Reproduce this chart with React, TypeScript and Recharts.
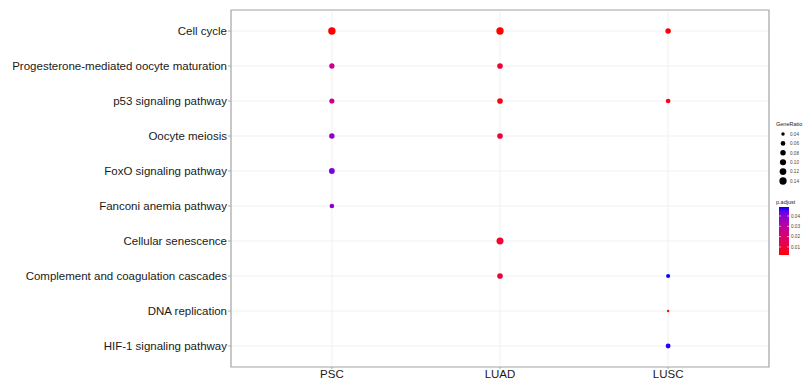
import {CartesianGrid, ReferenceArea, Scatter, ScatterChart, XAxis, YAxis} from "recharts";

// categories
const samples = ["PSC", "LUAD", "LUSC"];
const pathways = [
    "Cell cycle",
    "Progesterone-mediated oocyte maturation",
    "p53 signaling pathway",
    "Oocyte meiosis",
    "FoxO signaling pathway",
    "Fanconi anemia pathway",
    "Cellular senescence",
    "Complement and coagulation cascades",
    "DNA replication",
    "HIF-1 signaling pathway",
];

// one entry per dot: sample, pathway, GeneRatio, p.adjust
const dotSample = ["PSC", "LUAD", "LUSC", "PSC", "LUAD", "PSC", "LUAD", "LUSC", "PSC", "LUAD", "PSC", "PSC", "LUAD", "LUAD", "LUSC", "LUSC", "LUSC"];
const dotPathway = [
    "Cell cycle", "Cell cycle", "Cell cycle",
    "Progesterone-mediated oocyte maturation", "Progesterone-mediated oocyte maturation",
    "p53 signaling pathway", "p53 signaling pathway", "p53 signaling pathway",
    "Oocyte meiosis", "Oocyte meiosis",
    "FoxO signaling pathway",
    "Fanconi anemia pathway",
    "Cellular senescence",
    "Complement and coagulation cascades", "Complement and coagulation cascades",
    "DNA replication",
    "HIF-1 signaling pathway",
];
const geneRatio = [0.145, 0.143, 0.08, 0.075, 0.085, 0.072, 0.085, 0.06, 0.08, 0.085, 0.09, 0.06, 0.13, 0.085, 0.05, 0.03, 0.065];
const pAdjust = [0.0023, 0.0024, 0.003, 0.026, 0.009, 0.026, 0.004, 0.004, 0.039, 0.009, 0.042, 0.040, 0.008, 0.009, 0.0485, 0.004, 0.048];

// legend breaks
const sizeBreaks = [0.04, 0.06, 0.08, 0.10, 0.12, 0.14];
const colorBreaks = [0.04, 0.03, 0.02, 0.01];

const G_MIN = 0.028, G_MAX = 0.146;
const P_MIN = 0.0022, P_MAX = 0.0487;

const radius = (g: number) => {
    const t = Math.max(0, (g - G_MIN) / (G_MAX - G_MIN));
    return 0.8 + 2.9 * Math.sqrt(t);
};

// red -> blue interpolated in Lab, like ggplot
const toLin = (c: number) => (c <= 0.04045 ? c / 12.92 : Math.pow((c + 0.055) / 1.055, 2.4));
const fromLin = (c: number) => (c <= 0.0031308 ? 12.92 * c : 1.055 * Math.pow(c, 1 / 2.4) - 0.055);
const f = (t: number) => (t > 0.008856 ? Math.cbrt(t) : 7.787 * t + 16 / 116);
const fi = (t: number) => (t > 0.206893 ? t * t * t : (t - 16 / 116) / 7.787);
function rgbToLab([r, g, b]: number[]) {
    const R = toLin(r / 255), G = toLin(g / 255), B = toLin(b / 255);
    const X = (0.4124 * R + 0.3576 * G + 0.1805 * B) / 0.95047;
    const Y = 0.2126 * R + 0.7152 * G + 0.0722 * B;
    const Z = (0.0193 * R + 0.1192 * G + 0.9505 * B) / 1.08883;
    return [116 * f(Y) - 16, 500 * (f(X) - f(Y)), 200 * (f(Y) - f(Z))];
}
function labToHex([L, a, bb]: number[]) {
    const fy = (L + 16) / 116, fx = fy + a / 500, fz = fy - bb / 200;
    const X = fi(fx) * 0.95047, Y = fi(fy), Z = fi(fz) * 1.08883;
    const r = 3.2406 * X - 1.5372 * Y - 0.4986 * Z;
    const g = -0.9689 * X + 1.8758 * Y + 0.0415 * Z;
    const b = 0.0557 * X - 0.204 * Y + 1.057 * Z;
    const h = (v: number) => Math.round(Math.min(1, Math.max(0, fromLin(v))) * 255).toString(16).padStart(2, "0");
    return "#" + h(r) + h(g) + h(b);
}
const LAB_LOW = rgbToLab([255, 0, 0]);
const LAB_HIGH = rgbToLab([0, 0, 255]);
const colorAt = (t: number) => labToHex(LAB_LOW.map((v, i) => v + (LAB_HIGH[i] - v) * t));
const colorFor = (p: number) => colorAt(Math.min(1, Math.max(0, (p - P_MIN) / (P_MAX - P_MIN))));

const points = dotSample.map((s, i) => ({
    x: samples.indexOf(s) + 1,
    y: pathways.indexOf(dotPathway[i]) + 1,
    g: geneRatio[i],
    p: pAdjust[i],
}));

const FONT = "'Liberation Sans', Arial, sans-serif";

function Dot(props: any) {
    const {cx, cy, payload} = props;
    if (cx == null || cy == null) return null;
    return <circle cx={cx} cy={cy} r={radius(payload.g)} fill={colorFor(payload.p)} />;
}

function YTick(props: any) {
    const {x, y, payload} = props;
    return (
        <text x={x} y={y} dy={4} textAnchor="end" fontSize={11.5} fontFamily={FONT} fill="#1a1a1a">
            {pathways[payload.value - 1]}
        </text>
    );
}

function XTick(props: any) {
    const {x, y, payload} = props;
    return (
        <text x={x} y={y} dy={9} textAnchor="middle" fontSize={11.5} fontFamily={FONT} fill="#1a1a1a">
            {samples[payload.value - 1]}
        </text>
    );
}

function Legend() {
    const barTop = 207, barH = 48, barX = 779, barW = 10;
    const stops = Array.from({length: 11}, (_, i) => i / 10);
    return (
        <svg width={806} height={380} style={{position: "absolute", left: 0, top: 0, pointerEvents: "none"}}>
            <defs>
                <linearGradient id="pgrad" x1="0" y1="1" x2="0" y2="0">
                    {stops.map((t) => (
                        <stop key={t} offset={t} stopColor={colorAt(t)} />
                    ))}
                </linearGradient>
            </defs>
            <text x={776} y={126} fontSize={5.5} fontFamily={FONT} fill="#222">GeneRatio</text>
            {sizeBreaks.map((g, i) => (
                <g key={g}>
                    <circle cx={783} cy={134 + i * 9.4} r={radius(g)} fill="#000" />
                    <text x={790} y={134 + i * 9.4 + 1.7} fontSize={4.6} fontFamily={FONT} fill="#444">
                        {g.toFixed(2)}
                    </text>
                </g>
            ))}
            <text x={776} y={204} fontSize={5.5} fontFamily={FONT} fill="#222">p.adjust</text>
            <rect x={barX} y={barTop} width={barW} height={barH} fill="url(#pgrad)" />
            {colorBreaks.map((p) => {
                const y = barTop + ((P_MAX - p) / (P_MAX - P_MIN)) * barH;
                return (
                    <g key={p}>
                        <line x1={barX} x2={barX + 2} y1={y} y2={y} stroke="#fff" strokeWidth={0.6} />
                        <line x1={barX + barW - 2} x2={barX + barW} y1={y} y2={y} stroke="#fff" strokeWidth={0.6} />
                        <text x={791} y={y + 1.7} fontSize={4.6} fontFamily={FONT} fill="#444">
                            {p.toFixed(2)}
                        </text>
                    </g>
                );
            })}
        </svg>
    );
}

export default function App() {
    return (
        <div style={{position: "fixed", left: 0, top: 0, width: 806, height: 380, background: "#fff"}}>
            <ScatterChart width={806} height={380} margin={{top: 10, right: 37, bottom: 0, left: 0}}>
                <CartesianGrid stroke="#f1f1f1" strokeWidth={1} />
                <XAxis
                    type="number"
                    dataKey="x"
                    domain={[0.4, 3.6]}
                    ticks={[1, 2, 3]}
                    interval={0}
                    allowDataOverflow
                    height={13}
                    tickSize={2}
                    tickMargin={0}
                    axisLine={false}
                    tickLine={{stroke: "#aaa"}}
                    tick={<XTick />}
                />
                <YAxis
                    type="number"
                    dataKey="y"
                    domain={[0.4, 10.6]}
                    ticks={[1, 2, 3, 4, 5, 6, 7, 8, 9, 10]}
                    interval={0}
                    reversed
                    allowDataOverflow
                    width={231}
                    tickSize={3}
                    tickMargin={1}
                    axisLine={false}
                    tickLine={{stroke: "#aaa"}}
                    tick={<YTick />}
                />
                <ReferenceArea x1={0.4} x2={3.6} y1={0.4} y2={10.6} fill="none" stroke="#a8a8a8" strokeWidth={1.2} fillOpacity={0} ifOverflow="visible" />
                <Scatter data={points} shape={<Dot />} isAnimationActive={false} />
            </ScatterChart>
            <Legend />
        </div>
    );
}
